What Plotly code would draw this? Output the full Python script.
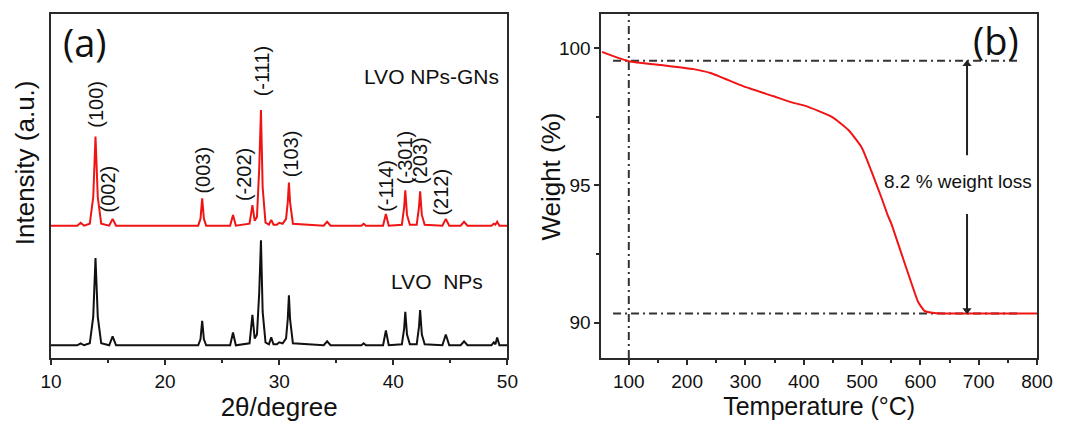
import plotly.graph_objects as go

# ---------------- Panel (a): XRD patterns ----------------
two_theta = [10, 12.3, 12.6, 12.9, 13.4, 13.7, 13.9, 14.1, 14.4, 15.1, 15.4, 15.7,
             22.9, 23.1, 23.25, 23.4, 23.6, 25.7, 25.95, 26.2, 27.4, 27.65, 27.85,
             28.05, 28.25, 28.4, 28.55, 28.8, 29.1, 29.3, 29.5, 29.8, 30.0, 30.3,
             30.6, 30.75, 30.85, 30.95, 31.2, 33.9, 34.2, 34.5, 37.2, 37.4, 37.6,
             39.1, 39.35, 39.6, 40.75, 40.95, 41.05, 41.2, 41.45, 42.05, 42.25,
             42.35, 42.5, 42.75, 44.3, 44.6, 44.9, 45.9, 46.2, 46.5, 48.6, 48.8,
             48.95, 49.1, 49.3, 50]

int_gns = [1, 1, 4, 1, 3, 30, 92, 30, 3, 1, 8, 1,
           1, 8, 29, 8, 1, 1, 12, 1, 3, 22, 6,
           10, 60, 119, 40, 4, 2, 7, 2, 2, 4, 3,
           8, 25, 45, 25, 3, 1, 5, 1, 1, 3, 1,
           1, 13, 1, 2, 20, 37, 12, 2, 2, 20,
           36, 12, 2, 1, 8, 1, 1, 5, 1, 1, 3,
           2, 5, 1, 1]

int_nps = [1, 1, 3, 1, 3, 30, 90, 30, 3, 1, 10, 1,
           1, 7, 26, 7, 1, 1, 14, 1, 3, 32, 8,
           12, 55, 108, 35, 4, 2, 9, 2, 2, 4, 3,
           8, 28, 52, 28, 3, 1, 5, 1, 1, 3, 1,
           1, 16, 1, 2, 18, 35, 12, 2, 2, 20,
           37, 12, 2, 1, 12, 1, 1, 5, 1, 1, 4,
           2, 9, 1, 1]

offset_nps = 12
offset_gns = 134

hkl_labels = ["(100)", "(002)", "(003)", "(-202)", "(-111)", "(103)",
              "(-114)", "(-301)", "(203)", "(212)"]
hkl_x = [13.99, 15.0, 23.3, 26.86, 28.45, 31.05, 39.3, 41.03, 42.33, 44.2]
hkl_y = [259, 172, 192, 187, 292, 208, 176, 204, 202, 169]

# ---------------- Panel (b): TGA ----------------
temperature = [54, 100, 155, 211, 240, 296, 347, 381, 403, 449, 477, 500, 516,
               533, 545, 550, 567, 584, 596, 607, 624, 650, 700, 750, 800]
weight = [99.87, 99.53, 99.39, 99.24, 99.1, 98.62, 98.26, 98.02, 97.9, 97.49,
          97.01, 96.36, 95.52, 94.57, 93.86, 93.62, 92.55, 91.48, 90.76, 90.43,
          90.35, 90.33, 90.33, 90.33, 90.33]

w_start = 99.55
w_end = 90.33
t_ref = 100
t_arrow = 680

RED = "rgb(240,20,20)"
BLACK = "#111111"
AX = "#2a2a2a"
FONT = "Liberation Sans, Arial, sans-serif"

fig = go.Figure()

fig.add_trace(go.Scatter(x=two_theta, y=[v + offset_nps for v in int_nps],
                         mode="lines", line=dict(color=BLACK, width=2),
                         xaxis="x", yaxis="y", showlegend=False))
fig.add_trace(go.Scatter(x=two_theta, y=[v + offset_gns for v in int_gns],
                         mode="lines", line=dict(color=RED, width=2),
                         xaxis="x", yaxis="y", showlegend=False))

DD = "8px,4px,2px,4px"
for yy in (w_start, w_end):
    fig.add_trace(go.Scatter(x=[73, 769], y=[yy, yy], mode="lines",
                             line=dict(color="#333333", width=2, dash=DD),
                             xaxis="x2", yaxis="y2", showlegend=False))
fig.add_trace(go.Scatter(x=[t_ref, t_ref], y=[88.71, 101.25], mode="lines",
                         line=dict(color="#333333", width=2, dash=DD),
                         xaxis="x2", yaxis="y2", showlegend=False))
fig.add_trace(go.Scatter(x=temperature, y=weight, mode="lines",
                         line=dict(color=RED, width=2, shape="spline", smoothing=0.5),
                         xaxis="x2", yaxis="y2", showlegend=False))

fig.add_trace(go.Scatter(x=[t_arrow, t_arrow], y=[96.1, w_start - 0.1], mode="lines",
                         line=dict(color="#222222", width=2),
                         xaxis="x2", yaxis="y2", showlegend=False))
fig.add_trace(go.Scatter(x=[t_arrow, t_arrow], y=[93.96, w_end + 0.1], mode="lines",
                         line=dict(color="#222222", width=2),
                         xaxis="x2", yaxis="y2", showlegend=False))
fig.add_trace(go.Scatter(x=[t_arrow, t_arrow], y=[w_start - 0.12, w_end + 0.12], mode="markers",
                         marker=dict(symbol=["triangle-up", "triangle-down"], size=8, color="#222222"),
                         xaxis="x2", yaxis="y2", showlegend=False))

annotations = []
for lab, xx, yy in zip(hkl_labels, hkl_x, hkl_y):
    annotations.append(dict(x=xx, y=yy, xref="x", yref="y", text=lab, textangle=-90,
                            showarrow=False, font=dict(family=FONT, size=20, color=BLACK)))
annotations += [
    dict(x=43.34, y=287, xref="x", yref="y", text="LVO NPs-GNs", showarrow=False,
         font=dict(family=FONT, size=21, color=BLACK)),
    dict(x=43.85, y=78, xref="x", yref="y", text="LVO&nbsp;&nbsp;NPs", showarrow=False,
         font=dict(family=FONT, size=21, color=BLACK)),
    dict(x=85, y=422 - 42, xref="paper", yref="paper", text="(a)", showarrow=False,
         font=dict(family="Open Sans, sans-serif", size=38, color=BLACK)),
    dict(x=1006, y=422 - 40, xref="paper", yref="paper", text="(b)", showarrow=False,
         font=dict(family="Open Sans, sans-serif", size=38, color=BLACK)),
    dict(x=664, y=95.16, xref="x2", yref="y2", text="8.2 % weight loss", showarrow=False,
         font=dict(family=FONT, size=19, color=BLACK)),
    dict(x=25, y=422 - 165, xref="paper", yref="paper", text="Intensity (a.u.)", textangle=-90,
         showarrow=False, font=dict(family=FONT, size=26, color=BLACK)),
    dict(x=556, y=422 - 179, xref="paper", yref="paper", text="Weight (%)", textangle=-90,
         showarrow=False, font=dict(family=FONT, size=26, color=BLACK)),
]
L, R, T, B = 51, 18, 13, 58
W, H = 1065 - L - R, 422 - T - B
for a in annotations:
    if a.get("xref") == "paper":
        a["x"] = (a["x"] - L) / W
        a["y"] = (a["y"] - B) / H
        a["xanchor"] = "center"
        a["yanchor"] = "middle"

axis_common = dict(showline=True, linewidth=2, linecolor=AX, mirror=True,
                   showgrid=False, zeroline=False,
                   tickfont=dict(family=FONT, size=19, color=BLACK))

fig.update_layout(
    width=1065, height=422,
    margin=dict(l=L, r=R, t=T, b=B),
    paper_bgcolor="white", plot_bgcolor="white",
    xaxis=dict(domain=[0, 0.4629], range=[10, 50], tickvals=[10, 20, 30, 40, 50],
               ticks="outside", ticklen=5, tickwidth=2, tickcolor=AX,
               minor=dict(dtick=5, tick0=10, ticks="outside", ticklen=3, tickwidth=2, tickcolor=AX),
               title=dict(text="2θ/degree", font=dict(family=FONT, size=26, color=BLACK), standoff=0),
               anchor="y", **axis_common),
    yaxis=dict(domain=[0, 1], range=[0, 351], showticklabels=False, ticks="",
               anchor="x", **axis_common),
    xaxis2=dict(domain=[0.5582, 1], range=[53, 800], tickvals=[100, 200, 300, 400, 500, 600, 700, 800],
                ticks="outside", ticklen=5, tickwidth=2, tickcolor=AX,
                minor=dict(dtick=50, tick0=50, ticks="outside", ticklen=3, tickwidth=2, tickcolor=AX),
                title=dict(text="Temperature (°C)", font=dict(family=FONT, size=25, color=BLACK), standoff=0),
                anchor="y2", **axis_common),
    yaxis2=dict(domain=[0, 1], range=[88.71, 101.25], tickvals=[90, 95, 100],
                ticks="outside", ticklen=5, tickwidth=2, tickcolor=AX,
                minor=dict(dtick=2.5, tick0=90, ticks="outside", ticklen=3, tickwidth=2, tickcolor=AX),
                anchor="x2", **axis_common),
    annotations=annotations,
)

fig.write_html("out.html", config={"displayModeBar": False},
               post_script="document.body.style.margin='0';")
